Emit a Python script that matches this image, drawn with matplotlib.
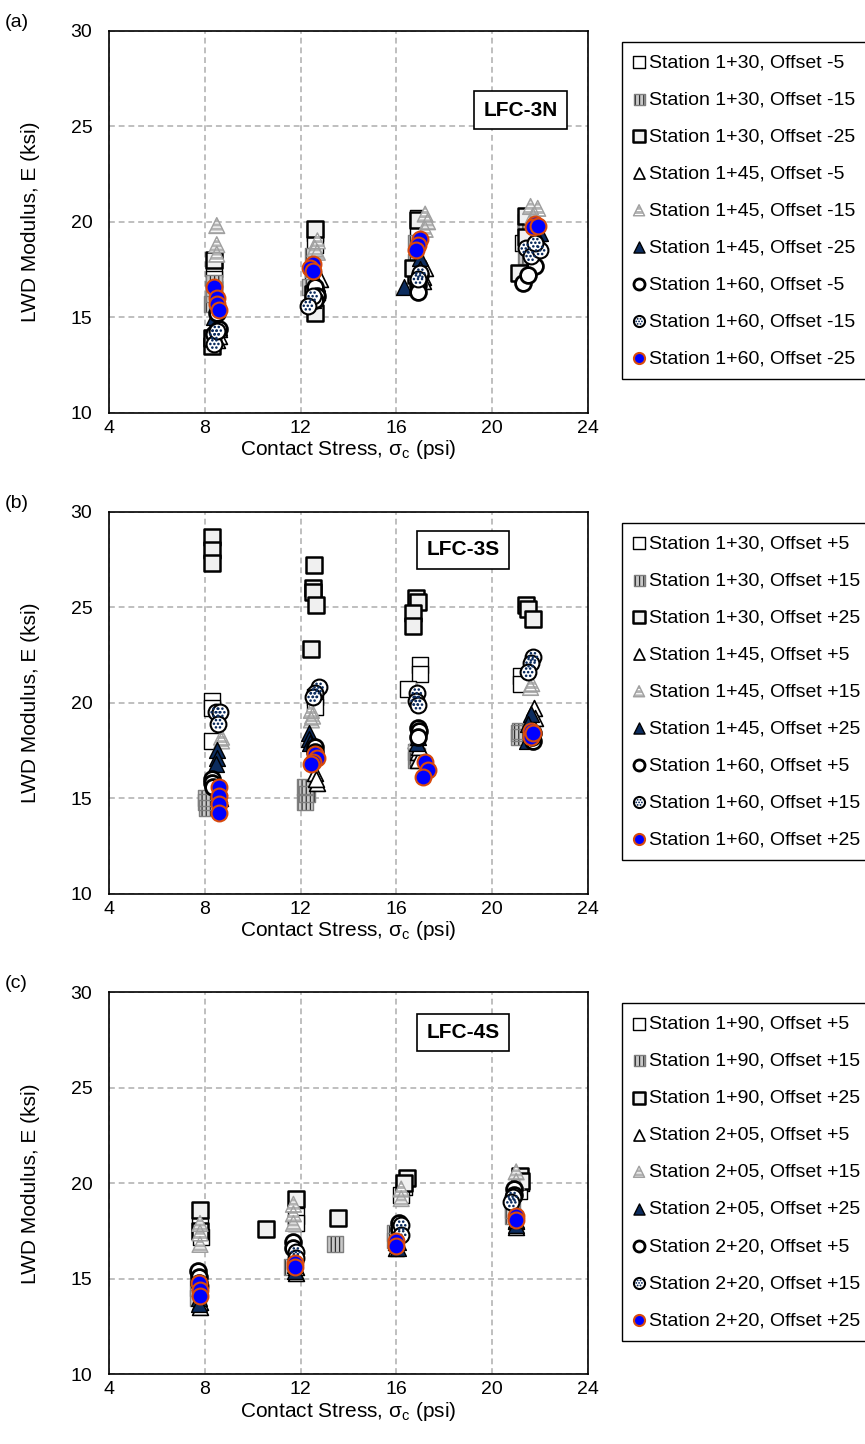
import matplotlib
matplotlib.use("Agg")
import matplotlib.pyplot as plt
from matplotlib.path import Path

plt.rcParams['font.family'] = ['Liberation Sans', 'DejaVu Sans']
plt.rcParams['hatch.linewidth'] = 0.9

# ---- data: contact stress (psi) and LWD modulus (ksi), one list per series ----
labels_a = ["Station 1+30, Offset -5", "Station 1+30, Offset -15", "Station 1+30, Offset -25",
            "Station 1+45, Offset -5", "Station 1+45, Offset -15", "Station 1+45, Offset -25",
            "Station 1+60, Offset -5", "Station 1+60, Offset -15", "Station 1+60, Offset -25"]
labels_b = ["Station 1+30, Offset +5", "Station 1+30, Offset +15", "Station 1+30, Offset +25",
            "Station 1+45, Offset +5", "Station 1+45, Offset +15", "Station 1+45, Offset +25",
            "Station 1+60, Offset +5", "Station 1+60, Offset +15", "Station 1+60, Offset +25"]
labels_c = ["Station 1+90, Offset +5", "Station 1+90, Offset +15", "Station 1+90, Offset +25",
            "Station 2+05, Offset +5", "Station 2+05, Offset +15", "Station 2+05, Offset +25",
            "Station 2+20, Offset +5", "Station 2+20, Offset +15", "Station 2+20, Offset +25"]

# panel (a) LFC-3N
a_x = [
    [8.4, 8.4, 8.4, 12.6, 12.6, 12.5, 16.9, 16.9, 16.8, 21.4, 21.4, 21.3],
    [8.4, 8.4, 8.3, 12.5, 12.5, 12.4, 16.8, 16.8, 16.9, 21.4, 21.5, 21.4],
    [8.4, 8.3, 8.3, 12.6, 12.6, 12.5, 16.9, 16.8, 16.7, 21.4, 21.1, 21.4],
    [8.6, 8.6, 8.5, 12.8, 12.7, 12.7, 17.2, 17.1, 17.1, 21.9, 21.8, 21.8],
    [8.5, 8.5, 8.5, 12.7, 12.6, 12.7, 17.2, 17.3, 17.2, 21.6, 21.9, 21.7],
    [8.5, 8.6, 8.4, 12.7, 12.6, 12.5, 17.0, 17.0, 16.3, 22.0, 21.9, 21.8],
    [8.5, 8.6, 8.4, 12.6, 12.7, 12.6, 17.0, 16.9, 16.9, 21.8, 21.3, 21.5],
    [8.4, 8.4, 8.5, 12.5, 12.3, 17.0, 16.9, 21.4, 21.6, 22.0, 21.8],
    [8.4, 8.5, 8.5, 8.6, 12.5, 12.4, 12.5, 17.0, 16.9, 16.8, 21.8, 21.7, 21.9],
]
a_E = [
    [17.5, 17.0, 16.5, 19.4, 18.8, 17.0, 20.2, 19.6, 17.3, 20.0, 19.5, 18.9],
    [16.8, 16.2, 15.7, 18.2, 17.5, 16.6, 18.9, 17.9, 17.5, 19.7, 19.0, 18.2],
    [18.0, 13.5, 13.9, 19.6, 15.2, 16.2, 20.1, 17.2, 17.6, 20.3, 17.3, 19.2],
    [14.0, 14.4, 13.8, 17.0, 16.7, 16.3, 17.6, 17.1, 16.9, 19.4, 18.9, 18.6],
    [19.8, 18.8, 18.3, 19.0, 18.6, 18.4, 20.4, 20.0, 19.6, 20.8, 20.7, 20.3],
    [14.9, 14.5, 15.0, 16.8, 16.2, 15.9, 18.1, 17.5, 16.6, 19.4, 19.1, 18.6],
    [15.2, 14.4, 14.1, 16.6, 16.1, 15.9, 17.2, 16.7, 16.3, 17.7, 16.8, 17.2],
    [14.1, 13.6, 14.3, 16.1, 15.6, 17.3, 17.0, 18.6, 18.2, 18.5, 18.9],
    [16.6, 16.0, 15.7, 15.4, 17.8, 17.6, 17.4, 19.1, 18.8, 18.5, 19.9, 19.7, 19.8],
]

# panel (b) LFC-3S
b_x = [
    [8.3, 8.3, 8.3, 12.6, 12.6, 17.0, 17.0, 16.5, 21.2, 21.2],
    [8.05, 8.1, 8.05, 12.2, 12.2, 12.25, 16.8, 16.8, 16.85, 21.1, 21.1, 21.15],
    [8.3, 8.3, 8.3, 12.55, 12.5, 12.5, 12.65, 12.45, 16.8, 16.9, 16.7, 16.7, 21.4, 21.5, 21.7],
    [8.6, 8.6, 8.65, 12.6, 12.7, 12.65, 16.9, 16.9, 16.95, 21.75, 21.8, 21.7],
    [8.7, 8.7, 12.45, 12.45, 12.5, 16.85, 16.8, 21.6, 21.65],
    [8.5, 8.5, 8.45, 12.35, 12.35, 12.4, 16.9, 16.85, 16.9, 21.6, 21.5, 21.45],
    [8.3, 8.3, 8.35, 12.6, 12.6, 16.9, 16.95, 16.9, 21.7, 21.7, 21.65],
    [8.45, 8.65, 8.55, 12.75, 12.6, 12.5, 16.85, 16.8, 16.9, 21.7, 21.6, 21.5],
    [8.6, 8.6, 8.6, 8.6, 12.6, 12.7, 12.5, 12.45, 17.2, 17.3, 17.1, 21.6, 21.6, 21.7],
]
b_E = [
    [20.1, 19.7, 18.0, 20.3, 19.8, 22.0, 21.5, 20.7, 21.4, 21.0],
    [15.0, 14.5, 14.8, 15.6, 14.8, 15.2, 17.4, 17.0, 17.2, 18.4, 18.2, 18.5],
    [28.7, 28.0, 27.3, 27.2, 26.0, 25.8, 25.1, 22.8, 25.5, 25.3, 24.7, 24.0, 25.1, 24.9, 24.4],
    [15.2, 15.6, 15.0, 16.3, 15.8, 16.0, 17.4, 17.0, 17.7, 19.7, 19.2, 18.8],
    [18.2, 18.0, 19.6, 19.1, 19.3, 20.6, 18.0, 20.8, 21.0],
    [17.5, 17.1, 16.8, 18.4, 18.1, 17.9, 18.5, 17.9, 18.2, 19.4, 18.9, 18.0],
    [16.0, 15.8, 15.6, 17.7, 17.4, 18.7, 18.5, 18.2, 18.4, 18.0, 18.2],
    [19.5, 19.5, 18.9, 20.8, 20.5, 20.3, 20.5, 20.1, 19.9, 22.4, 22.1, 21.6],
    [15.6, 15.1, 14.7, 14.2, 17.3, 17.1, 16.9, 16.8, 16.9, 16.5, 16.1, 18.5, 18.2, 18.4],
]

# panel (c) LFC-4S
c_x = [
    [7.8, 7.85, 11.8, 11.8, 16.3, 16.2, 21.2, 21.1],
    [7.7, 7.7, 13.45, 11.65, 15.95, 15.95, 20.85, 20.85],
    [7.8, 7.8, 10.55, 11.8, 13.55, 16.45, 16.3, 21.15, 21.2],
    [7.8, 7.8, 11.8, 11.8, 16.0, 16.0, 21.0, 21.0],
    [7.8, 7.8, 7.8, 11.7, 11.7, 11.7, 16.2, 16.2, 21.0, 21.0],
    [7.75, 7.75, 11.75, 11.75, 16.05, 16.05, 21.0, 21.0],
    [7.7, 7.75, 7.75, 11.7, 11.7, 16.1, 16.1, 20.9, 20.9],
    [7.8, 11.8, 11.8, 16.2, 16.2, 20.85, 20.8],
    [7.75, 7.8, 7.8, 11.75, 11.75, 16.0, 16.0, 21.0, 21.0],
]
c_E = [
    [17.8, 17.2, 18.3, 17.9, 19.8, 19.4, 20.0, 19.6],
    [14.5, 14.0, 16.8, 15.6, 17.4, 17.0, 18.6, 18.3],
    [18.6, 17.5, 17.6, 19.2, 18.2, 20.3, 20.0, 20.4, 20.1],
    [13.5, 13.8, 15.3, 15.6, 16.6, 16.9, 17.7, 18.0],
    [17.9, 17.4, 16.8, 18.9, 18.4, 17.9, 19.7, 19.2, 20.6, 20.1],
    [14.0, 13.7, 15.4, 15.7, 16.6, 16.9, 17.8, 18.1],
    [15.4, 15.1, 14.8, 16.9, 16.6, 17.9, 17.6, 19.7, 19.4],
    [14.6, 16.4, 16.1, 17.8, 17.3, 19.3, 19.0],
    [14.8, 14.4, 14.1, 15.8, 15.6, 17.0, 16.7, 18.3, 18.1],
]

panel_tags = ["(a)", "(b)", "(c)"]
site_names = ["LFC-3N", "LFC-3S", "LFC-4S"]
site_pos = [(21.2, 25.85), (18.8, 28.0), (18.8, 27.9)]

# ---- styles ----
navy = '#0c2c5e'
S = 130


def dot_path():
    centers = [(-0.25, 0.45), (0.25, 0.45), (-0.5, 0.0), (0.0, 0.0), (0.5, 0.0),
               (-0.25, -0.45), (0.25, -0.45)]
    return Path.make_compound_path(*[Path.circle(c, 0.16) for c in centers])


DOTS = dot_path()

styles = [
    dict(m='s', fc='white', ec='black', lw=1.0),
    dict(m='s', fc='#c8c8c8', ec='#7f7f7f', lw=1.0, hatch='||||', hc='#303030'),
    dict(m='s', fc='#f0f0f0', ec='black', lw=1.8),
    dict(m='^', fc='white', ec='black', lw=1.2),
    dict(m='^', fc='#b4b4b4', ec='#a0a0a0', lw=1.0, hatch='----', hc='white'),
    dict(m='^', fc=navy, ec='black', lw=1.0),
    dict(m='o', fc='white', ec='black', lw=2.0),
    dict(m='o', fc='white', ec='black', lw=1.5, dots=True),
    dict(m='o', fc='#0000ff', ec='#d94a0c', lw=1.5),
]


def draw_series(ax, x, y, st, z):
    if 'hatch' in st:
        with plt.rc_context({'hatch.color': st['hc']}):
            h0 = ax.scatter(x, y, s=S, marker=st['m'], facecolor=st['fc'], edgecolor=st['hc'],
                            linewidths=0, hatch=st['hatch'], zorder=z)
        h1 = ax.scatter(x, y, s=S, marker=st['m'], facecolor='none', edgecolor=st['ec'],
                        linewidths=st['lw'], zorder=z + 0.01)
        return (h0, h1)
    h0 = ax.scatter(x, y, s=S, marker=st['m'], facecolor=st['fc'], edgecolor=st['ec'],
                    linewidths=st['lw'], zorder=z)
    if st.get('dots'):
        h1 = ax.scatter(x, y, s=S * 0.45, marker=DOTS, facecolor=navy, edgecolor='none',
                        linewidths=0, zorder=z + 0.01)
        return (h0, h1)
    return h0


fig = plt.figure(figsize=(8.65, 14.44), dpi=100)
bottoms = [0.7142, 0.3811, 0.0483]
xs = [a_x, b_x, c_x]
Es = [a_E, b_E, c_E]
labels = [labels_a, labels_b, labels_c]

for p in range(3):
    ax = fig.add_axes([0.126, bottoms[p], 0.5538, 0.2645])
    handles = []
    for i in range(9):
        handles.append(draw_series(ax, xs[p][i], Es[p][i], styles[i], 3 + i * 0.1))
    ax.set_xlim(4, 24)
    ax.set_ylim(10, 30)
    ax.set_xticks([4, 8, 12, 16, 20, 24])
    ax.set_yticks([10, 15, 20, 25, 30])
    ax.tick_params(length=0, labelsize=14, pad=5)
    ax.tick_params(axis='y', pad=12)
    ax.grid(True, color='#bfbfbf', linestyle=(0, (3, 2)), linewidth=1.4, zorder=0)
    ax.set_axisbelow(True)
    for sp in ax.spines.values():
        sp.set_linewidth(1.2)
        sp.set_color('black')
    ax.set_xlabel(r'Contact Stress, σ$_\mathregular{c}$ (psi)', fontsize=15, labelpad=1)
    ax.set_ylabel('LWD Modulus, E (ksi)', fontsize=15, labelpad=22)
    ax.text(site_pos[p][0], site_pos[p][1], site_names[p], ha='center', va='center',
            fontsize=15, fontweight='bold', zorder=10,
            bbox=dict(boxstyle='square,pad=0.45', fc='white', ec='black', lw=1.2))
    ax.legend(handles, labels[p], loc='upper left', bbox_to_anchor=(1.071, 0.971),
              borderaxespad=0, fontsize=14, markerscale=0.7, frameon=True, fancybox=False,
              edgecolor='black', framealpha=1, labelspacing=1.0, borderpad=0.6,
              handlelength=0.55, handletextpad=0.25, scatterpoints=1)
    ax.get_legend().get_frame().set_linewidth(1.0)
    top = bottoms[p] + 0.2645
    fig.text(0.006, top + 0.006, panel_tags[p], fontsize=14, va='center')

fig.savefig('out.png', dpi=100)
